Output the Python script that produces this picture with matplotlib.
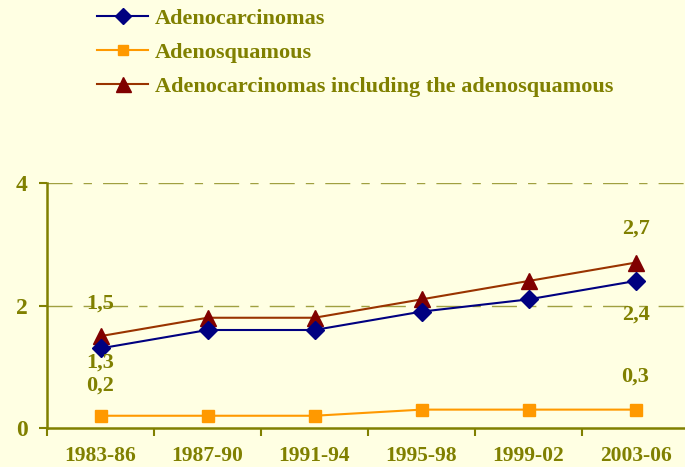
import matplotlib.pyplot as plt
import numpy as np

# valeurs
periods = ['1983-86', '1987-90', '1991-94', '1995-98', '1999-02', '2003-06']
adenocarcinomas = [1.3, 1.6, 1.6, 1.9, 2.1, 2.4]
adenosquamous = [0.2, 0.2, 0.2, 0.3, 0.3, 0.3]
adeno_including = [1.5, 1.8, 1.8, 2.1, 2.4, 2.7]

olive = '#808000'
bg = '#FFFFE3'

plt.rcParams['font.family'] = 'Liberation Serif'
plt.rcParams['font.weight'] = 'bold'

fig = plt.figure(figsize=(6.85, 4.67), dpi=100, facecolor=bg)
ax = fig.add_axes([47/685, 39/467, 642/685, 245/467])
ax.set_facecolor(bg)

x = np.arange(len(periods))
l1, = ax.plot(x, adenocarcinomas, color='#000080', lw=1.5, marker='D', ms=9,
              label='Adenocarcinomas', zorder=4)
l2, = ax.plot(x, adenosquamous, color='#FF9900', lw=1.5, marker='s', ms=8,
              label='Adenosquamous', zorder=4)
l3, = ax.plot(x, adeno_including, color='#993300', lw=1.5, marker='^', ms=12,
              mfc='#800000', mec='#800000',
              label='Adenocarcinomas including the adenosquamous', zorder=3)

# étiquettes de valeurs (premier et dernier point)
def label(series, i, dy):
    ax.annotate('{:.1f}'.format(series[i]).replace('.', ','), (x[i], series[i]),
                xytext=(0, dy), textcoords='offset pixels', ha='center',
                va='center', color=olive, fontsize=16, fontweight='bold',
                zorder=5)

label(adeno_including, 0, 33)
label(adenocarcinomas, 0, -14)
label(adenosquamous, 0, 30)
label(adeno_including, 5, 34)
label(adenocarcinomas, 5, -34)
label(adenosquamous, 5, 33)

ax.set_xlim(-0.5, len(periods) - 0.5)
ax.set_ylim(0, 4)
ax.set_yticks([0, 2, 4])
ax.set_xticks(x)
ax.set_xticklabels(periods)
ax.set_xticks(np.arange(-0.5, len(periods), 1), minor=True)
ax.tick_params(axis='x', which='major', length=0, pad=13, labelsize=15.5,
               labelcolor=olive)
ax.tick_params(axis='x', which='minor', length=6, width=1.5, color=olive)
ax.tick_params(axis='y', length=6, width=1.5, color=olive, labelsize=17,
               labelcolor=olive, pad=8)

for y in [2, 4]:
    ax.axhline(y, color='#A0A040', lw=1, dashes=(18, 8, 6, 8), zorder=1)

for s in ['top', 'right']:
    ax.spines[s].set_visible(False)
for s in ['left', 'bottom']:
    ax.spines[s].set_color(olive)
    ax.spines[s].set_linewidth(1.8)

fig.legend(handles=[l1, l2, l3], loc='upper left',
           bbox_to_anchor=(97/685, 1 - 8/467), borderaxespad=0, borderpad=0,
           frameon=False, fontsize=16, labelcolor=olive, handlelength=2.3,
           handletextpad=0.3, labelspacing=0.62, markerscale=0.9)

fig.savefig('out.png', dpi=100, facecolor=bg)
